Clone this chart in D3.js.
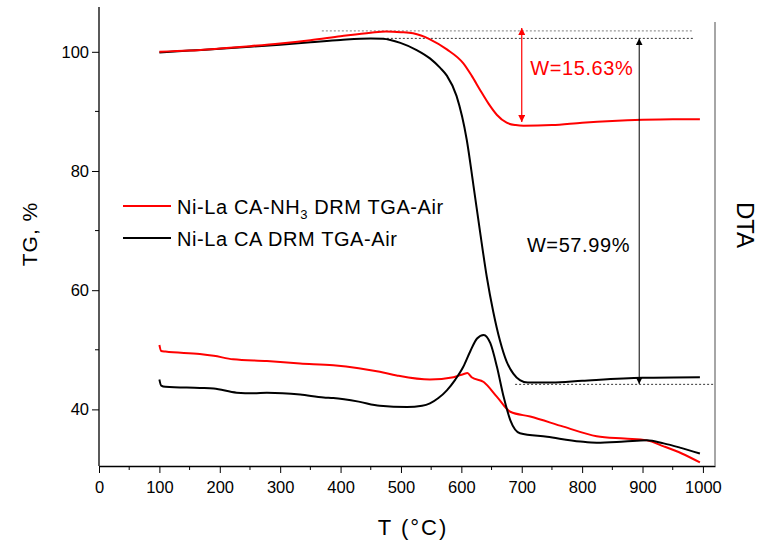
<!DOCTYPE html>
<html>
<head>
<meta charset="utf-8">
<script src="https://cdn.jsdelivr.net/npm/d3@7"></script>
<style>
  body { margin: 0; background: #fff; }
  svg { font-family: "Liberation Sans", Arial, sans-serif; }
</style>
</head>
<body>
<div id="chart"></div>
<script>
// TG curves (weight %, left axis)
const tgRedT   = [100, 150, 200, 250, 300, 350, 400, 450, 475, 500, 520, 548, 576, 603, 617, 631, 645, 659, 675, 690, 703, 750, 800, 850, 900, 950, 995];
const tgRedV   = [100.0, 100.2, 100.55, 100.95, 101.4, 101.95, 102.6, 103.2, 103.4, 103.3, 103.1, 102.1, 100.4, 98.1, 96.0, 93.6, 91.3, 89.4, 88.1, 87.7, 87.6, 87.7, 88.1, 88.4, 88.6, 88.7, 88.7];
const tgBlackT = [100, 150, 200, 250, 300, 350, 400, 450, 470, 499, 526, 548, 565, 576, 592, 609, 620, 631, 642, 653, 664, 675, 686, 697, 710, 750, 800, 900, 995];
const tgBlackV = [99.9, 100.2, 100.5, 100.85, 101.2, 101.6, 102.0, 102.25, 102.2, 101.5, 100.3, 98.9, 97.3, 96.0, 92.6, 85.2, 77.6, 69.8, 62.3, 56.3, 51.5, 48.0, 46.0, 44.9, 44.5, 44.5, 44.8, 45.3, 45.4];

// DTA curves (no scale on the right axis, read against the left axis)
const dtaRedT   = [100, 103, 110, 167, 190, 222, 278, 333, 388, 430, 465, 493, 548, 587, 603, 610, 617, 637, 659, 681, 714, 769, 824, 870, 907, 935, 965, 995];
const dtaRedV   = [50.8, 49.8, 49.7, 49.3, 49.0, 48.4, 48.1, 47.7, 47.4, 46.9, 46.3, 45.7, 45.0, 45.4, 45.9, 46.1, 45.4, 44.6, 42.1, 39.6, 38.8, 37.1, 35.5, 35.1, 34.8, 33.8, 32.6, 31.1];
const dtaBlackT = [100, 103, 110, 167, 190, 228, 256, 278, 333, 372, 388, 430, 465, 510, 535, 548, 562, 576, 590, 603, 615, 626, 637, 648, 659, 670, 681, 697, 742, 797, 824, 870, 907, 935, 965, 995];
const dtaBlackV = [45.0, 44.0, 43.8, 43.6, 43.5, 42.8, 42.7, 42.8, 42.5, 42.0, 41.9, 41.3, 40.6, 40.4, 40.6, 41.0, 41.9, 43.2, 45.0, 47.1, 49.8, 51.9, 52.5, 51.1, 47.1, 42.1, 38.2, 36.0, 35.4, 34.6, 34.4, 34.6, 34.8, 34.3, 33.5, 32.6];

const xTicks = [0, 100, 200, 300, 400, 500, 600, 700, 800, 900, 1000];
const yTicks = [40, 60, 80, 100];
const legendLabels = ["Ni-La CA-NH|3| DRM TGA-Air", "Ni-La CA DRM TGA-Air"];
const lossLabels = ["W=15.63%", "W=57.99%"];

const width = 761, height = 543;
const margin = { top: 22, right: 46, bottom: 77, left: 99 };

const svg = d3.select("#chart").append("svg")
    .attr("width", width)
    .attr("height", height);

const x = d3.scaleLinear().domain([0, 1020]).range([margin.left, width - margin.right]);
const y = d3.scaleLinear().domain([30.5, 105]).range([height - margin.bottom, margin.top]);

const defs = svg.append("defs");
[["arR", "#ff0000"], ["arK", "#000"]].forEach(([id, c]) => {
    defs.append("marker")
        .attr("id", id)
        .attr("viewBox", "0 0 10 10")
        .attr("refX", 10).attr("refY", 5)
        .attr("markerWidth", 7).attr("markerHeight", 7)
        .attr("markerUnits", "userSpaceOnUse")
        .attr("orient", "auto-start-reverse")
        .append("path")
        .attr("d", "M0,0 L10,5 L0,10 Z")
        .attr("fill", c);
});

// axes
const xAxis = svg.append("g")
    .attr("transform", `translate(0,${y.range()[0]})`)
    .call(d3.axisBottom(x).tickValues(xTicks).tickSize(7).tickSizeOuter(0).tickFormat(d3.format("d")));
xAxis.append("g").selectAll("line")
    .data(d3.range(50, 1001, 100))
    .join("line")
    .attr("x1", d => x(d)).attr("x2", d => x(d))
    .attr("y1", 0).attr("y2", 4)
    .attr("stroke", "#000");

const yAxis = svg.append("g")
    .attr("transform", `translate(${margin.left},0)`)
    .call(d3.axisLeft(y).tickValues(yTicks).tickSize(7).tickSizeOuter(0));
yAxis.append("g").selectAll("line")
    .data([50, 70, 90])
    .join("line")
    .attr("y1", d => y(d)).attr("y2", d => y(d))
    .attr("x1", 0).attr("x2", -4)
    .attr("stroke", "#000");
yAxis.select(".domain").attr("d", `M0,7V${y.range()[0]}`);

[xAxis, yAxis].forEach(g => {
    g.selectAll(".tick text").attr("font-size", 16.5).attr("fill", "#000")
        .attr("font-family", "'Liberation Sans', Arial, sans-serif");
    g.select(".domain").attr("stroke", "#000").attr("stroke-width", 1.3);
});
xAxis.selectAll(".tick text").attr("dy", "1.05em");

// right DTA axis line (no ticks)
svg.append("line")
    .attr("x1", x(1020)).attr("x2", x(1020))
    .attr("y1", y(105)).attr("y2", y(30.5))
    .attr("stroke", "#888").attr("stroke-width", 1.5);

// guide lines
svg.append("line")
    .attr("x1", x(369)).attr("x2", x(984))
    .attr("y1", y(103.5)).attr("y2", y(103.5))
    .attr("stroke", "#999").attr("stroke-width", 1.2).attr("stroke-dasharray", "2,2");
svg.append("line")
    .attr("x1", x(470)).attr("x2", x(984))
    .attr("y1", y(102.25)).attr("y2", y(102.25))
    .attr("stroke", "#000").attr("stroke-width", 0.8).attr("stroke-dasharray", "2,2");
svg.append("line")
    .attr("x1", x(689)).attr("x2", x(1020))
    .attr("y1", y(44.2)).attr("y2", y(44.2))
    .attr("stroke", "#000").attr("stroke-width", 0.8).attr("stroke-dasharray", "2,2");

// curves
const line = d3.line().x(d => x(d[0])).y(d => y(d[1])).curve(d3.curveMonotoneX);
const series = [
    [d3.zip(dtaRedT, dtaRedV), "#ff0000"],
    [d3.zip(dtaBlackT, dtaBlackV), "#000"],
    [d3.zip(tgBlackT, tgBlackV), "#000"],
    [d3.zip(tgRedT, tgRedV), "#ff0000"]
];
series.forEach(([pts, c]) => {
    svg.append("path")
        .datum(pts)
        .attr("d", line)
        .attr("fill", "none")
        .attr("stroke", c)
        .attr("stroke-width", 2);
});

// weight loss arrows
svg.append("line")
    .attr("x1", x(700)).attr("x2", x(700))
    .attr("y1", y(104)).attr("y2", y(88.2))
    .attr("stroke", "#ff0000").attr("stroke-width", 1.2)
    .attr("marker-start", "url(#arR)").attr("marker-end", "url(#arR)");
svg.append("line")
    .attr("x1", x(894.5)).attr("x2", x(894.5))
    .attr("y1", y(102.25)).attr("y2", y(44.25))
    .attr("stroke", "#000").attr("stroke-width", 1)
    .attr("marker-start", "url(#arK)").attr("marker-end", "url(#arK)");

svg.append("text")
    .attr("x", x(714)).attr("y", y(96.1))
    .attr("font-size", 20).attr("letter-spacing", 0.6).attr("fill", "#ff0000")
    .text(lossLabels[0]);
svg.append("text")
    .attr("x", x(708.5)).attr("y", y(66.4))
    .attr("font-size", 20).attr("letter-spacing", 0.6).attr("fill", "#000")
    .text(lossLabels[1]);

// legend
const legColors = ["#ff0000", "#000"];
legendLabels.forEach((lab, i) => {
    const ly = 206 + i * 32;
    svg.append("line")
        .attr("x1", 123).attr("x2", 171)
        .attr("y1", ly).attr("y2", ly)
        .attr("stroke", legColors[i]).attr("stroke-width", 2);
    const t = svg.append("text")
        .attr("x", 177).attr("y", ly + 7.5)
        .attr("font-size", 20).attr("letter-spacing", 0.6).attr("fill", "#000");
    lab.split("|").forEach((part, j) => {
        if (j === 1) {
            t.append("tspan").attr("font-size", 13).attr("dy", 5).text(part);
        } else if (j === 2) {
            t.append("tspan").attr("dy", -5).text(part);
        } else {
            t.append("tspan").text(part);
        }
    });
});

// axis titles
svg.append("text")
    .attr("x", 413).attr("y", 535)
    .attr("text-anchor", "middle")
    .attr("font-size", 22).attr("letter-spacing", 2)
    .text("T (°C)");
svg.append("text")
    .attr("transform", "translate(37,234) rotate(-90)")
    .attr("text-anchor", "middle")
    .attr("font-size", 21).attr("letter-spacing", 1)
    .text("TG, %");
svg.append("text")
    .attr("transform", "translate(737,225) rotate(90)")
    .attr("text-anchor", "middle")
    .attr("font-size", 24)
    .text("DTA");
</script>
</body>
</html>
